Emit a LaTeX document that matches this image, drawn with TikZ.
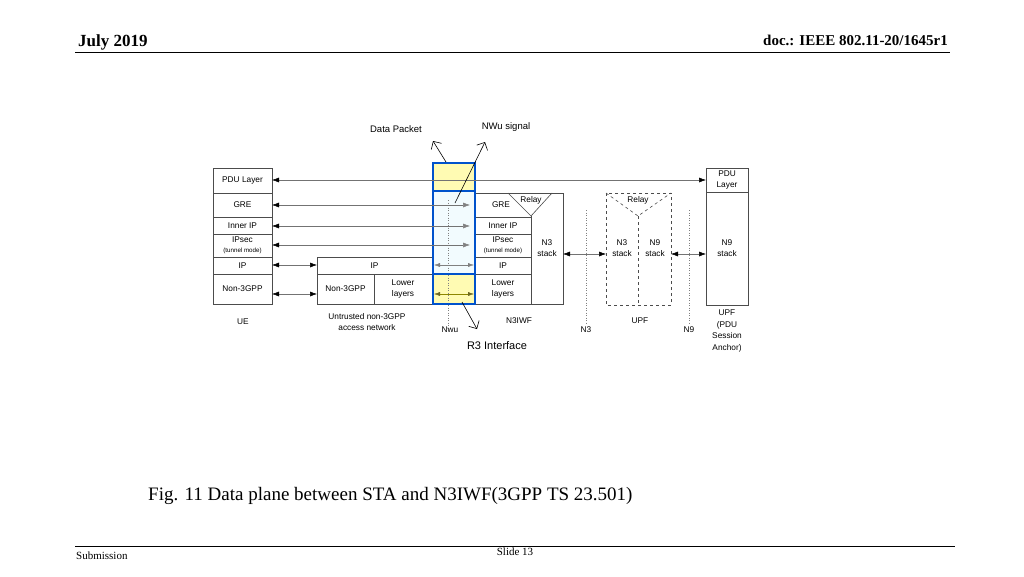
\documentclass[tikz,border=0pt]{standalone}
\usepackage{fontspec}
\setmainfont{Liberation Serif}
\newfontfamily\dsans{Liberation Sans}
\usetikzlibrary{arrows.meta}
\begin{document}
\begin{tikzpicture}[x=1pt,y=-1pt,
  bx/.style={draw=black!70,line width=0.6pt},
  lbl/.style={font=\dsans\fontsize{8.3}{9.5}\selectfont,align=center,inner sep=0pt},
  sml/.style={font=\dsans\fontsize{6.2}{7}\selectfont,align=center,inner sep=0pt},
  ar/.style={draw=black!55,line width=0.5pt,{Latex[length=7pt,width=5pt,black]}-{Latex[length=7pt,width=5pt,black]}},
  ga/.style={draw=black!55,line width=0.5pt,{Latex[length=7pt,width=5pt,black]}-{Latex[length=7pt,width=5pt,black!50]}},
  dl/.style={draw=black!50,dotted,line width=0.5pt}]
\useasboundingbox (0,0) rectangle (1024,576);
\fill[white] (0,0) rectangle (1024,576);
% header/footer
\node[anchor=base west,font=\bfseries\fontsize{17}{19}\selectfont,inner sep=0] (hd) at (78,46) {July 2019};
\node[anchor=base east,font=\bfseries\fontsize{15}{18}\selectfont,inner sep=0] (doc) at (948,45) {doc.: IEEE 802.11-20/1645r1};
\draw[line width=0.8pt] (75,52) -- (950,52);
\draw[line width=0.6pt] (75,546) -- (955,546);
\node[anchor=base west,font=\fontsize{11}{12}\selectfont,inner sep=0] (sub) at (76,559) {Submission};
\node[anchor=base,font=\fontsize{11}{12}\selectfont,inner sep=0] (sl) at (515,555) {Slide 13};
\node[anchor=base west,font=\fontsize{19}{21}\selectfont,inner sep=0] (cap) at (148,500) {Fig. 11 Data plane between STA and N3IWF(3GPP TS 23.501)};
% highlight
\fill[yellow!30] (433,163) rectangle (475,191);
\fill[cyan!5] (433,191) rectangle (475,274);
\fill[yellow!30] (433,274) rectangle (475,304);
\draw[dl] (448,200) -- (448,330);
% UE
\foreach \a/\b in {168/193,193/217,217/234,234/257,257/274,274/304}
  \draw[bx] (213,\a) rectangle (272,\b);
\node[lbl] (u1) at (242.5,180.5) {PDU Layer};
\node[lbl] (u2) at (242.5,205) {GRE};
\node[lbl] (u3) at (242.5,225.5) {Inner IP};
\node[lbl] (u4) at (242.5,240) {IPsec};
\node[sml] (u4b) at (242.5,251) {(tunnel mode)};
\node[lbl] (u5) at (242.5,265.5) {IP};
\node[lbl] (u6) at (242.5,289) {Non-3GPP};
% untrusted
\draw[bx] (317,257) rectangle (432,274);
\draw[bx] (317,274) rectangle (374,304);
\draw[bx] (374,274) rectangle (432,304);
\node[lbl] (a1) at (374.5,265.5) {IP};
\node[lbl] (a2) at (345.5,289) {Non-3GPP};
\node[lbl] (a3) at (403,289) {Lower\\[1pt]layers};
% N3IWF
\draw[bx] (475,193) -- (563,193) -- (563,304) -- (475,304);
\draw[bx] (531,216) -- (531,304);
\draw[bx] (475,217) -- (531,217) (475,234) -- (531,234) (475,257) -- (531,257) (475,274) -- (531,274);
\draw[bx] (508,193) -- (531,216) -- (552,193);
\node[lbl] (n1) at (501,205) {GRE};
\node[lbl] (n1r) at (531,200) {Relay};
\node[lbl] (n2) at (503,225.5) {Inner IP};
\node[lbl] (n3) at (503,240) {IPsec};
\node[sml] (n3b) at (503,251) {(tunnel mode)};
\node[lbl] (n4) at (503,265.5) {IP};
\node[lbl] (n5) at (503,289) {Lower\\[1pt]layers};
\node[lbl] (n6) at (547,248) {N3\\[1pt]stack};
% UPF
\draw[bx,dashed] (606,193) rectangle (671,305);
\draw[bx,dashed] (638,216) -- (638,305);
\draw[bx,dashed] (606,193) -- (638,216) -- (671,193);
\node[lbl] (p1) at (638,200) {Relay};
\node[lbl] (p2) at (622,248) {N3\\[1pt]stack};
\node[lbl] (p3) at (655,248) {N9\\[1pt]stack};
% anchor
\draw[bx] (706,168) rectangle (748,192);
\draw[bx] (706,192) rectangle (748,305);
\node[lbl] (q1) at (727,180) {PDU\\[1pt]Layer};
\node[lbl] (q2) at (727,248) {N9\\[1pt]stack};
% highlight borders
\draw[blue!60!cyan!80!black,line width=1.3pt] (433,163) rectangle (475,191) (433,191) rectangle (475,274) (433,274) rectangle (475,304);
% dotted refs
\draw[dl] (586,210) -- (586,324);
\draw[dl] (689,210) -- (689,324);
% arrows
\draw[ar] (272,180) -- (706,180);
\draw[ga] (272,205) -- (470,205);
\draw[ga] (272,226) -- (470,226);
\draw[ga] (272,245) -- (470,245);
\draw[ar] (272,265) -- (317,265);
\draw[ar] (272,294) -- (317,294);
\draw[draw=black!50,{Latex[length=6pt,width=4pt,black!50]}-{Latex[length=6pt,width=4pt,black!50]}] (434,265) -- (474,265);
\draw[draw=olive,{Latex[length=6pt,width=4pt,olive!70!black]}-{Latex[length=6pt,width=4pt,olive!70!black]}] (434,294) -- (474,294);
\draw[ar] (563,254) -- (606,254);
\draw[ar] (671,254) -- (706,254);
% labels
\node[lbl] (l1) at (243,322) {UE};
\node[lbl] (l2) at (367,322) {Untrusted non-3GPP\\[1pt]access network};
\node[lbl] (l3) at (450,330) {Nwu};
\node[lbl] (l4) at (519,321) {N3IWF};
\node[lbl] (l5) at (586,330) {N3};
\node[lbl] (l6) at (640,321) {UPF};
\node[lbl] (l7) at (689,330) {N9};
\node[lbl] (l8) at (727,331) {UPF\\[2pt](PDU\\[2pt]Session\\[2pt]Anchor)};
\node[lbl,font=\dsans\fontsize{11}{12}\selectfont] (r3) at (497,346) {R3 Interface};
\node[lbl,font=\dsans\fontsize{9.5}{11}\selectfont] (dp) at (396,129) {Data Packet};
\node[lbl,font=\dsans\fontsize{9.5}{11}\selectfont] (ns) at (506,127) {NWu signal};
\coordinate (dpe) at (446,162);
\coordinate (nse) at (455,203);
\coordinate (nwe) at (462,302);
\draw[-{Straight Barb[length=6pt]},line width=0.6pt] (dpe) -- (433,141);
\draw[-{Straight Barb[length=6pt]},line width=0.6pt] (nse) -- (485,142);
\draw[-{Straight Barb[length=6pt]},line width=0.6pt] (nwe) -- (477,329);
\end{tikzpicture}
\end{document}
